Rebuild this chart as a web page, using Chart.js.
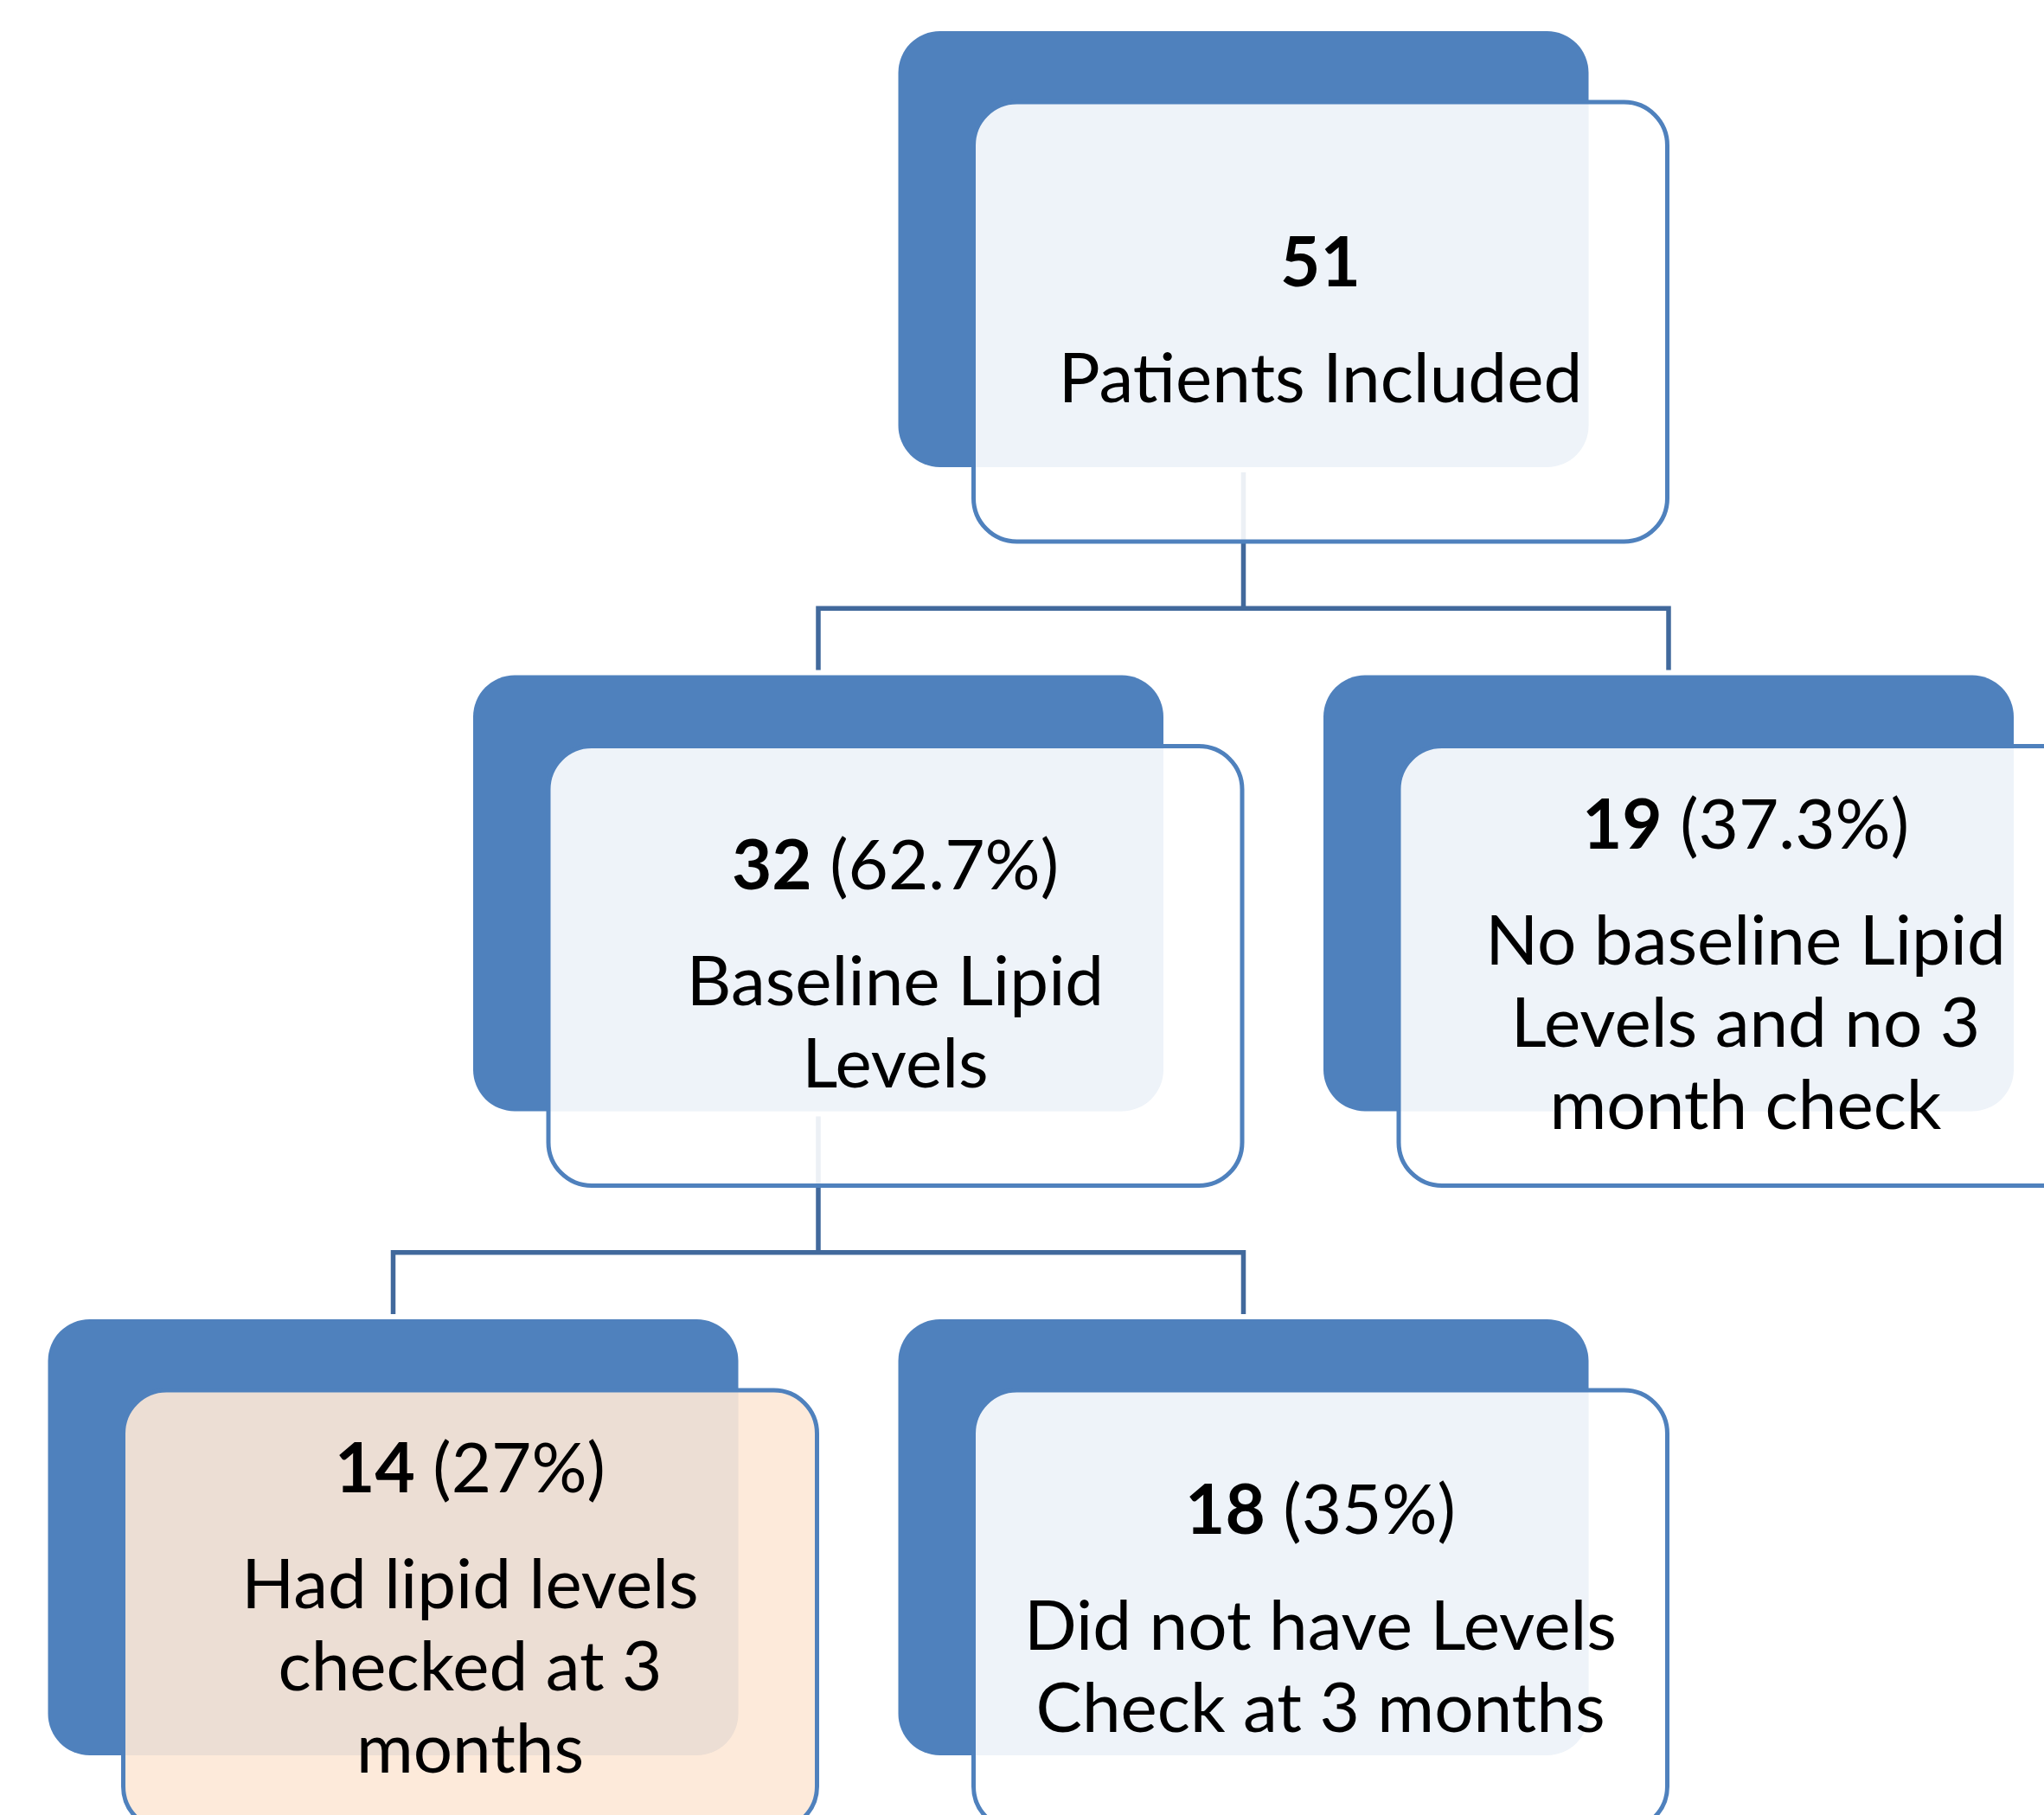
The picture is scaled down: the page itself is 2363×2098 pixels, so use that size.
<!DOCTYPE html>
<html>
<head>
<meta charset="utf-8">
<title>Lipid level follow-up</title>
<script src="https://cdn.jsdelivr.net/npm/chart.js@4.4.1/dist/chart.umd.min.js"></script>
<style>
  html, body { margin: 0; padding: 0; background: #fff; }
  #wrap { width: 2363px; height: 2098px; overflow: hidden; }
</style>
</head>
<body>
<div id="wrap"><canvas id="chart" width="2363" height="2098"></canvas></div>
<script>
// node data
const counts = [51, 32, 19, 14, 18];
const percents = [null, 62.7, 37.3, 27, 35];
const descriptions = [
  ["Patients Included"],
  ["Baseline Lipid", "Levels"],
  ["No baseline Lipid", "Levels and no 3", "month check"],
  ["Had lipid levels", "checked at 3", "months"],
  ["Did not have Levels", "Check at 3 months"]
];
// tree: parent of each node, its level and its slot in the row
const parents = [null, 0, 0, 1, 1];
const levels = [0, 1, 1, 2, 2];
const slots = [2, 1, 3, 0, 2];

// look
const BLUE = "#4F81BD";
const LINE = "#41699C";
const BOX_W = 798, BOX_H = 504, BOX_R = 48;
const CARD_DX = 87, CARD_DY = 82, CARD_W = 802, CARD_H = 508, CARD_R = 50;
const CARD_FILL = [
  "rgba(255,255,255,0.9)",
  "rgba(255,255,255,0.9)",
  "rgba(255,255,255,0.9)",
  "rgba(253,232,214,0.9)",
  "rgba(255,255,255,0.9)"
];
const GAP = 6;
const FONT = "Lato, 'Open Sans', sans-serif";
const FONT_PX = 80;
const HEAD_GAP = 134, LINE_H = 95, CAP = 56;

// pixel = 454.5 + 491.5 * slot ; pixel = 36 + 744.5 * level
const X_MIN = -454.5 / 491.5, X_MAX = (2363 - 454.5) / 491.5;
const Y_MIN = -36 / 744.5, Y_MAX = (2098 - 36) / 744.5;

function roundedRect(ctx, x, y, w, h, r) {
  ctx.beginPath();
  ctx.moveTo(x + r, y);
  ctx.arcTo(x + w, y, x + w, y + h, r);
  ctx.arcTo(x + w, y + h, x, y + h, r);
  ctx.arcTo(x, y + h, x, y, r);
  ctx.arcTo(x, y, x + w, y, r);
  ctx.closePath();
}

const flowPlugin = {
  id: "flow",
  afterDatasetsDraw(chart) {
    const ctx = chart.ctx;
    const pts = chart.getDatasetMeta(0).data.map(p => ({ x: p.x, y: p.y }));
    ctx.save();

    // connectors
    ctx.strokeStyle = LINE;
    ctx.lineWidth = 5.5;
    ctx.lineJoin = "miter";
    ctx.lineCap = "butt";
    pts.forEach((p, i) => {
      const kids = [];
      parents.forEach((par, k) => { if (par === i) kids.push(k); });
      if (!kids.length) return;
      const childTop = pts[kids[0]].y;
      const midY = (p.y + CARD_DY + CARD_H + childTop) / 2;
      ctx.beginPath();
      ctx.moveTo(p.x, p.y + BOX_H + GAP);
      ctx.lineTo(p.x, midY);
      ctx.stroke();
      const xs = kids.map(k => pts[k].x).sort((a, b) => a - b);
      ctx.beginPath();
      ctx.moveTo(xs[0], childTop - GAP);
      ctx.lineTo(xs[0], midY);
      ctx.lineTo(xs[xs.length - 1], midY);
      ctx.lineTo(xs[xs.length - 1], childTop - GAP);
      ctx.stroke();
      xs.slice(1, -1).forEach(x => {
        ctx.beginPath();
        ctx.moveTo(x, midY);
        ctx.lineTo(x, childTop - GAP);
        ctx.stroke();
      });
    });

    // boxes and text
    pts.forEach((p, i) => {
      const left = p.x - BOX_W / 2;
      roundedRect(ctx, left, p.y, BOX_W, BOX_H, BOX_R);
      ctx.fillStyle = BLUE;
      ctx.fill();

      const cx0 = left + CARD_DX, cy0 = p.y + CARD_DY;
      roundedRect(ctx, cx0, cy0, CARD_W, CARD_H, CARD_R);
      ctx.fillStyle = CARD_FILL[i];
      ctx.fill();
      ctx.strokeStyle = BLUE;
      ctx.lineWidth = 5;
      ctx.stroke();

      const cx = cx0 + CARD_W / 2, cy = cy0 + CARD_H / 2;
      const lines = descriptions[i];
      const b1 = cy - (HEAD_GAP + LINE_H * (lines.length - 1) - CAP) / 2 - 2;

      ctx.fillStyle = "#000";
      ctx.textBaseline = "alphabetic";
      ctx.textAlign = "left";
      const bold = String(counts[i]);
      const rest = percents[i] === null ? "" : " (" + percents[i] + "%)";
      ctx.font = "bold " + FONT_PX + "px " + FONT;
      const wb = ctx.measureText(bold).width;
      ctx.font = FONT_PX + "px " + FONT;
      const wr = ctx.measureText(rest).width;
      const sx = cx - (wb + wr) / 2;
      ctx.font = "bold " + FONT_PX + "px " + FONT;
      ctx.fillText(bold, sx, b1);
      ctx.font = FONT_PX + "px " + FONT;
      ctx.fillText(rest, sx + wb, b1);

      ctx.textAlign = "center";
      lines.forEach((t, k) => {
        ctx.fillText(t, cx, b1 + HEAD_GAP + LINE_H * k);
      });
    });
    ctx.restore();
  }
};

function build() {
  new Chart(document.getElementById("chart"), {
    type: "scatter",
    data: {
      datasets: [{
        data: slots.map((s, i) => ({ x: s, y: levels[i] })),
        pointRadius: 0,
        showLine: false
      }]
    },
    options: {
      responsive: false,
      animation: false,
      events: [],
      layout: { padding: 0 },
      plugins: { legend: { display: false }, tooltip: { enabled: false } },
      scales: {
        x: { type: "linear", min: X_MIN, max: X_MAX, display: false },
        y: { type: "linear", min: Y_MIN, max: Y_MAX, reverse: true, display: false }
      }
    },
    plugins: [flowPlugin]
  });
}

Promise.all([
  document.fonts.load("80px Lato"),
  document.fonts.load("bold 80px Lato")
]).then(build, build);
</script>
</body>
</html>
